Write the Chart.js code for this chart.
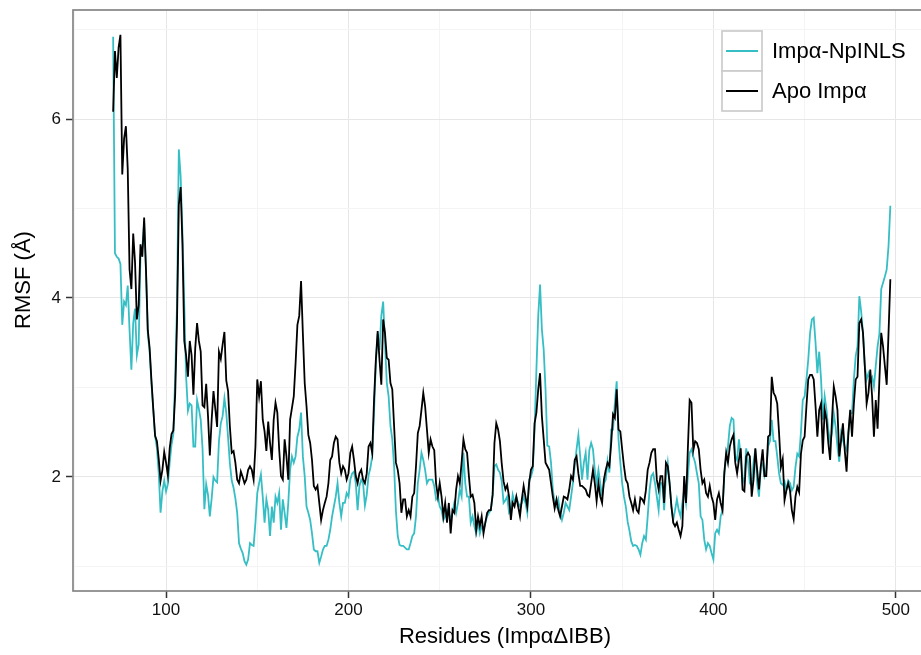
<!DOCTYPE html>
<html>
<head>
<meta charset="utf-8">
<script src="https://cdn.jsdelivr.net/npm/chart.js@4.4.1/dist/chart.umd.min.js"></script>
<style>
  html, body { margin: 0; padding: 0; background: #ffffff; }
  canvas { display: block; }
</style>
</head>
<body>
<canvas id="rmsf" width="921" height="655"></canvas>
<script>
// Residue range covered by both trajectories
const firstResidue = 71;

// Per-residue RMSF (Å), apo importin-alpha
const apoRmsf = [
  6.08, 6.76, 6.46, 6.8, 6.94, 5.38, 5.78, 5.92, 5.44, 4.32,
  4.1, 4.72, 4.4, 3.76, 3.92, 4.6, 4.46, 4.9, 4.32, 3.64,
  3.44, 3.08, 2.76, 2.46, 2.4, 2.2, 1.96, 2.08, 2.28, 2.16,
  2.02, 2.32, 2.48, 2.52, 2.92, 3.72, 5.04, 5.24, 4.6, 3.52,
  3.36, 3.12, 3.52, 3.36, 2.92, 3.44, 3.72, 3.52, 3.4, 2.8,
  2.78, 3.04, 2.68, 2.24, 2.64, 2.96, 2.76, 2.56, 3.4, 3.32,
  3.48, 3.62, 3.08, 2.96, 2.56, 2.27, 2.29, 2.16, 1.97, 1.93,
  2.06, 2.0, 1.93, 1.97, 2.08, 2.12, 2.08, 1.97, 2.34, 3.09,
  2.9, 3.07, 2.64, 2.51, 2.29, 2.62, 2.38, 2.19, 2.64, 2.83,
  2.72, 2.31, 2.01, 1.97, 2.42, 2.23, 1.97, 2.64, 2.77, 2.9,
  3.27, 3.7, 3.8, 4.19, 3.6, 3.05, 2.79, 2.47, 2.38, 2.19,
  1.9, 1.86, 1.9, 1.71, 1.52, 1.63, 1.71, 1.78, 1.93, 2.19,
  2.23, 2.38, 2.45, 2.42, 2.16, 2.04, 2.12, 2.08, 1.97, 2.04,
  2.27, 2.34, 2.19, 2.01, 1.93, 2.04, 2.08, 1.97, 1.93, 2.04,
  2.34, 2.38, 2.27, 2.86, 3.31, 3.63, 3.31, 3.03, 3.76, 3.61,
  3.33, 3.31, 3.05, 2.98, 2.57, 2.16, 2.08, 1.93, 1.6, 1.75,
  1.75, 1.56, 1.63, 1.56, 1.78, 1.82, 2.12, 2.49, 2.57, 2.75,
  2.94, 2.79, 2.53, 2.27, 2.42, 2.34, 2.3, 1.93, 1.78, 1.93,
  1.78, 1.56, 1.71, 1.49, 1.71, 1.37, 1.63, 1.6, 1.86, 2.01,
  1.93, 2.16, 2.42, 2.31, 2.27, 2.01, 1.78, 1.8, 1.71, 1.41,
  1.56, 1.45, 1.56, 1.37, 1.49, 1.6, 1.63, 1.63, 1.8, 2.38,
  2.6, 2.53, 2.4, 2.15, 1.95, 1.86, 1.91, 1.78, 1.52, 1.71,
  1.67, 1.78, 1.67, 1.56, 1.75, 1.9, 1.78, 1.67, 1.93, 2.08,
  2.12, 2.6, 2.72, 2.98, 3.16, 2.68, 2.42, 2.16, 2.12, 2.08,
  1.93, 1.78, 1.65, 1.75, 1.63, 1.56, 1.67, 1.78, 1.77, 1.75,
  1.86, 2.01, 1.97, 2.19, 2.23, 2.04, 1.9, 1.9, 1.88, 1.86,
  1.8, 1.78, 1.93, 2.08, 1.93, 1.73, 1.93, 1.78, 1.71, 1.97,
  2.08, 2.16, 2.12, 2.38, 2.7, 2.66, 2.98, 2.53, 2.51, 2.31,
  2.12, 1.97, 1.93, 1.78, 1.71, 1.63, 1.75, 1.63, 1.6, 1.77,
  1.75, 1.71, 1.85, 2.08, 2.16, 2.27, 2.31, 2.31, 1.97, 1.86,
  2.01, 2.01, 1.71, 2.16, 2.12, 1.93, 1.67, 1.49, 1.45, 1.49,
  1.41, 1.34, 1.45, 2.01, 1.71, 2.31, 2.86, 2.83, 2.3, 2.4,
  2.38, 2.31, 2.08, 1.93, 1.97, 1.82, 1.78, 1.9, 1.78, 1.71,
  1.52, 1.75, 1.82, 1.71, 1.63, 2.05, 2.27, 2.16, 2.34, 2.42,
  2.47, 2.16, 2.04, 2.19, 2.32, 1.86, 1.84, 2.23, 2.27, 2.23,
  1.78, 1.97, 2.32, 2.08, 1.86, 2.12, 2.31, 2.01, 2.01, 2.45,
  2.47, 3.12, 2.94, 2.9, 2.82, 2.49, 2.11, 2.2, 1.74, 1.85,
  1.93, 1.85, 1.63, 1.53, 1.78, 1.89, 1.83, 2.26, 2.41, 2.45,
  2.79, 3.09, 3.14, 3.14, 3.09, 2.79, 2.45, 2.75, 2.82, 2.26,
  2.75, 2.64, 2.38, 2.19, 2.64, 3.01, 2.9, 2.75, 2.23, 2.41,
  2.6, 2.3, 2.06, 2.49, 2.75, 2.45, 2.82, 3.09, 3.12, 3.72,
  3.76, 3.61, 3.24, 2.82, 2.94, 3.2, 2.9, 2.45, 2.86, 2.54,
  3.09, 3.61, 3.46, 3.24, 3.03, 3.61, 4.21
];

// Per-residue RMSF (Å), importin-alpha bound to the NplNLS peptide
const nlsRmsf = [
  6.92, 4.5, 4.46, 4.44, 4.38, 3.7, 3.96, 3.92, 4.14, 3.64,
  3.2, 3.72, 3.88, 3.36, 3.48, 4.48, 4.56, 4.84, 4.3, 3.6,
  3.4, 3.05, 2.75, 2.46, 2.32, 2.04, 1.6, 1.84, 1.96, 1.84,
  1.92, 2.16, 2.36, 2.48, 3.12, 3.92, 5.66, 5.36, 4.72, 3.92,
  3.12, 2.74, 2.82, 2.8, 2.34, 2.34, 2.86, 2.76, 2.64, 2.32,
  1.64, 1.92, 1.8, 1.56, 1.76, 2.0, 1.96, 1.94, 2.4, 2.6,
  2.68, 2.88, 2.72, 2.44, 2.15, 1.96, 1.88, 1.76, 1.6, 1.26,
  1.2, 1.15, 1.06, 1.02, 1.08, 1.26, 1.24, 1.23, 1.49, 1.82,
  1.93, 2.03, 1.78, 1.49, 1.75, 1.63, 1.34, 1.67, 1.49, 1.78,
  1.71, 1.82, 1.41, 1.75, 1.6, 1.43, 1.71, 2.08, 2.23, 2.16,
  2.23, 2.45, 2.53, 2.72, 2.23, 2.01, 1.67, 1.6, 1.52, 1.37,
  1.19, 1.17, 1.17, 1.04, 1.11, 1.19, 1.23, 1.23, 1.3, 1.41,
  1.56, 1.67, 1.78, 1.93, 1.71, 1.56, 1.71, 1.71, 1.82, 1.78,
  1.97, 2.04, 2.06, 1.93, 1.63, 1.9, 1.97, 1.93, 1.68, 1.8,
  2.02, 2.1, 2.23, 2.72, 3.27, 3.6, 3.42, 3.8, 3.96, 3.5,
  3.05, 2.9, 2.57, 2.42, 2.12, 1.62, 1.34, 1.24, 1.23, 1.23,
  1.21, 1.19, 1.19, 1.26, 1.34, 1.37, 1.56, 1.93, 2.08, 2.27,
  2.19, 2.08, 1.93, 1.97, 1.97, 1.97, 1.9, 1.75, 1.78, 1.67,
  1.63, 1.52, 1.56, 1.63, 1.6, 1.52, 1.6, 1.71, 1.6, 1.71,
  1.86, 1.78, 2.27, 1.93, 1.78, 1.78, 1.49, 1.56, 1.45, 1.37,
  1.49, 1.37, 1.45, 1.41, 1.49, 1.56, 1.6, 1.63, 1.8, 2.12,
  2.14, 2.08, 2.05, 1.95, 1.71, 1.74, 1.78, 1.6, 1.63, 1.8,
  1.71, 1.78, 1.71, 1.67, 1.71, 1.78, 1.71, 1.6, 1.97, 2.0,
  2.08, 2.53, 3.2, 3.8, 4.15, 3.65, 3.42, 2.98, 2.35, 2.34,
  2.16, 1.86, 1.71, 1.67, 1.75, 1.6, 1.52, 1.6, 1.71, 1.67,
  1.63, 1.78, 1.93, 2.12, 2.31, 2.47, 2.23, 1.97, 2.16, 2.27,
  1.97, 2.3, 2.38, 2.31, 2.08, 1.93, 2.08, 1.93, 1.78, 1.93,
  1.97, 2.18, 2.05, 2.53, 2.53, 2.83, 3.07, 2.42, 2.16, 1.93,
  1.78, 1.67, 1.5, 1.4, 1.28, 1.23, 1.24, 1.23, 1.19, 1.13,
  1.26, 1.34, 1.3, 1.56, 1.85, 2.01, 2.04, 1.93, 1.78, 1.63,
  1.93, 1.93, 1.63, 2.0, 2.16, 1.93, 1.67, 1.52, 1.63, 1.75,
  1.63, 1.56, 1.71, 1.86, 1.71, 2.0, 2.27, 2.31, 2.23, 2.16,
  2.04, 1.93, 1.56, 1.52, 1.3, 1.19, 1.26, 1.23, 1.15, 1.08,
  1.37, 1.41, 1.37, 1.56, 1.63, 2.02, 2.23, 2.34, 2.57, 2.66,
  2.64, 2.23, 2.19, 2.42, 2.23, 1.93, 2.0, 2.32, 2.16, 1.93,
  1.9, 2.16, 2.31, 1.93, 1.78, 2.12, 2.15, 2.01, 2.08, 2.34,
  2.4, 2.64, 2.4, 2.4, 2.23, 2.04, 1.93, 1.91, 1.95, 1.85,
  1.96, 1.93, 1.85, 1.89, 2.11, 2.26, 2.23, 2.5, 2.86, 2.9,
  3.09, 3.31, 3.61, 3.76, 3.78, 3.5, 3.16, 3.4, 3.1, 2.64,
  2.9, 2.75, 2.53, 2.38, 2.49, 2.71, 2.56, 2.34, 2.17, 2.49,
  2.41, 2.34, 2.3, 2.49, 2.71, 2.71, 3.09, 3.35, 3.46, 4.02,
  3.85, 3.61, 3.24, 3.09, 3.16, 3.09, 3.12, 3.01, 3.24, 3.46,
  3.6, 4.1, 4.17, 4.24, 4.32, 4.58, 5.03
];

const residues = apoRmsf.map((_, i) => firstResidue + i);

const seriesNames = ['Impα-NpINLS', 'Apo Impα'];
const seriesColors = ['#36bec5', '#000000'];

const xTitle = 'Residues (ImpαΔIBB)';
const yTitle = 'RMSF (Å)';

// Axis ticks: labelled majors and unlabelled minor grid positions
const xMajorTicks = [100, 200, 300, 400, 500];
const xMinorTicks = [50, 150, 250, 350, 450];
const yMajorTicks = [2, 4, 6];
const yMinorTicks = [1, 3, 5, 7];

const xRange = [49, 513.8];
const yRange = [0.726, 7.218];

const FONT = '"Liberation Sans", Arial, Helvetica, sans-serif';
const GRID_MAJOR = '#e6e6e6';
const GRID_MINOR = '#f4f4f4';

function toPoints(values) {
  return values.map((v, i) => ({ x: residues[i], y: v }));
}

function tickList(majors, minors) {
  return majors.concat(minors).sort((a, b) => a - b).map(v => ({ value: v }));
}

// Panel frame in grey, drawn over the grid and lines
const panelFrame = {
  id: 'panelFrame',
  afterDatasetsDraw(chart) {
    const { ctx, chartArea: a } = chart;
    ctx.save();
    ctx.strokeStyle = '#858585';
    ctx.lineWidth = 1.7;
    ctx.strokeRect(a.left, a.top, a.right - a.left + 20, a.bottom - a.top);
    ctx.restore();
  }
};

// Axis titles: x centred under the full panel width, y rotated beside the ticks
const axisTitles = {
  id: 'axisTitles',
  afterDraw(chart) {
    const { ctx, chartArea: a } = chart;
    ctx.save();
    ctx.fillStyle = '#000000';
    ctx.font = '22px ' + FONT;
    ctx.textAlign = 'center';
    ctx.textBaseline = 'middle';
    ctx.fillText(xTitle, a.left + 432, a.bottom + 46);
    ctx.translate(a.left - 49, a.top + 270);
    ctx.rotate(-Math.PI / 2);
    ctx.fillText(yTitle, 0, 0);
    ctx.restore();
  }
};

// Legend with boxed keys, stacked in the top right of the panel
const keyLegend = {
  id: 'keyLegend',
  afterDraw(chart) {
    const { ctx, chartArea: a } = chart;
    const keySize = 40;
    const x0 = a.right - 199;
    const y0 = a.top + 21;
    ctx.save();
    seriesNames.forEach((name, i) => {
      const y = y0 + i * keySize;
      ctx.fillStyle = '#ffffff';
      ctx.fillRect(x0, y, keySize, keySize);
      ctx.strokeStyle = '#cccccc';
      ctx.lineWidth = 1.7;
      ctx.strokeRect(x0, y, keySize, keySize);
      ctx.strokeStyle = seriesColors[i];
      ctx.lineWidth = 2;
      ctx.beginPath();
      ctx.moveTo(x0 + 4, y + keySize / 2);
      ctx.lineTo(x0 + keySize - 4, y + keySize / 2);
      ctx.stroke();
      ctx.fillStyle = '#000000';
      ctx.font = '22px ' + FONT;
      ctx.textBaseline = 'middle';
      ctx.textAlign = 'left';
      ctx.fillText(name, x0 + keySize + 10, y + keySize / 2 + 1);
    });
    ctx.restore();
  }
};

new Chart(document.getElementById('rmsf'), {
  type: 'line',
  data: {
    datasets: [
      {
        label: seriesNames[1],
        data: toPoints(apoRmsf),
        borderColor: seriesColors[1],
        borderWidth: 1.8,
        pointRadius: 0,
        tension: 0,
        fill: false
      },
      {
        label: seriesNames[0],
        data: toPoints(nlsRmsf),
        borderColor: seriesColors[0],
        borderWidth: 1.8,
        pointRadius: 0,
        tension: 0,
        fill: false
      }
    ]
  },
  options: {
    responsive: false,
    animation: false,
    devicePixelRatio: 1,
    parsing: false,
    layout: { padding: { top: 10, right: 0, bottom: 0, left: 0 } },
    plugins: {
      legend: { display: false },
      tooltip: { enabled: false }
    },
    scales: {
      x: {
        type: 'linear',
        min: xRange[0],
        max: xRange[1],
        afterFit(scale) {
          scale.height = 64;
          scale.paddingLeft = 0;
          scale.paddingRight = 0;
        },
        afterBuildTicks(scale) { scale.ticks = tickList(xMajorTicks, xMinorTicks); },
        border: { display: false },
        grid: {
          color: c => xMajorTicks.includes(c.tick.value) ? GRID_MAJOR : GRID_MINOR,
          tickColor: c => xMajorTicks.includes(c.tick.value) ? '#333333' : 'rgba(0,0,0,0)',
          tickLength: 7,
          tickWidth: 1.5,
          lineWidth: 1
        },
        ticks: {
          autoSkip: false,
          maxRotation: 0,
          padding: 2,
          color: '#111111',
          font: { family: FONT, size: 17 },
          callback: v => xMajorTicks.includes(v) ? String(v) : ''
        },
        title: { display: false }
      },
      y: {
        type: 'linear',
        min: yRange[0],
        max: yRange[1],
        afterFit(scale) {
          scale.width = 73;
          scale.paddingTop = 0;
          scale.paddingBottom = 0;
        },
        afterBuildTicks(scale) { scale.ticks = tickList(yMajorTicks, yMinorTicks); },
        border: { display: false },
        grid: {
          color: c => yMajorTicks.includes(c.tick.value) ? GRID_MAJOR : GRID_MINOR,
          tickColor: c => yMajorTicks.includes(c.tick.value) ? '#333333' : 'rgba(0,0,0,0)',
          tickLength: 7,
          tickWidth: 1.5,
          lineWidth: 1
        },
        ticks: {
          autoSkip: false,
          padding: 5,
          color: '#111111',
          font: { family: FONT, size: 17 },
          callback: v => yMajorTicks.includes(v) ? String(v) : ''
        },
        title: { display: false }
      }
    }
  },
  plugins: [panelFrame, axisTitles, keyLegend]
});
</script>
</body>
</html>
